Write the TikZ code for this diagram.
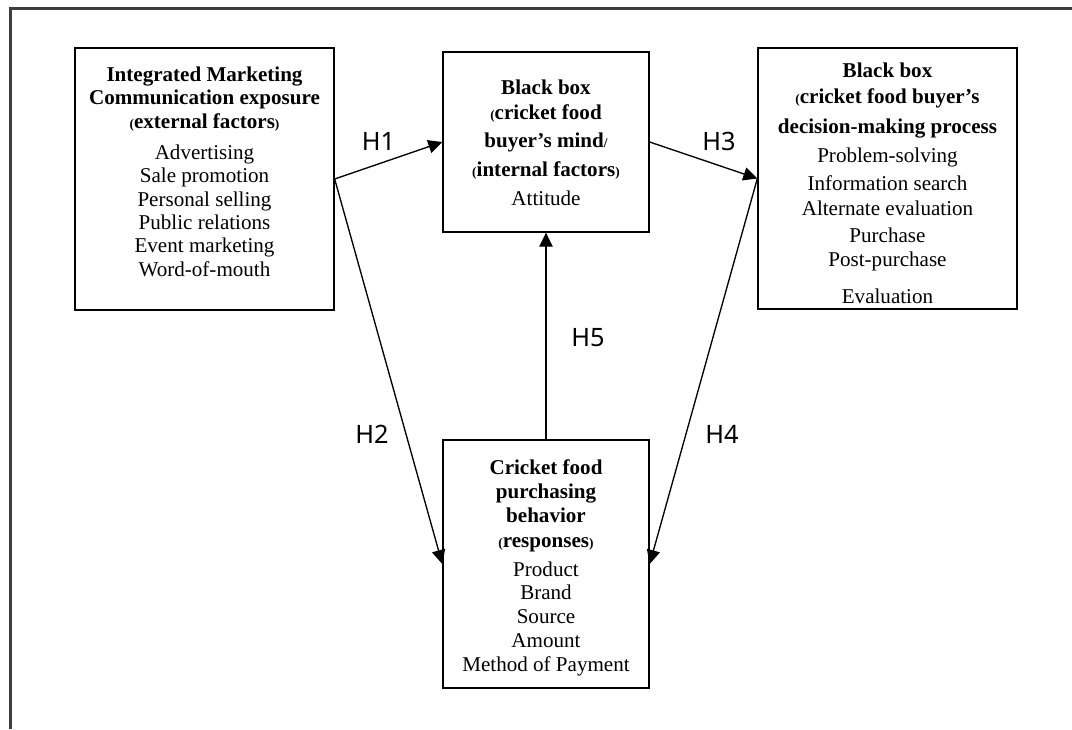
\documentclass[tikz,border=0pt]{standalone}
\usepackage{fontspec}
\setmainfont{Liberation Serif}
\newfontfamily\hypfont{Noto Sans}
\usetikzlibrary{arrows.meta}
% small punctuation as set in the box titles
\newcommand\smallp[1]{{\fontsize{10}{10}\selectfont #1}}

\begin{document}
\begin{tikzpicture}[x=0.75pt,y=-0.75pt,
  panel/.style={draw=black, line width=1pt, inner sep=0pt},
  flow/.style={line width=1pt, -{Triangle[length=10.5pt,width=10pt]}},
  hyp/.style={font=\hypfont\fontsize{19}{19}\selectfont, inner sep=0pt},
  txt/.style={font=\fontsize{15.8}{16}\selectfont, inner sep=0pt, anchor=base},
  ttl/.style={font=\bfseries\fontsize{15.8}{16}\selectfont, inner sep=0pt, anchor=base}]

\useasboundingbox (0,0) rectangle (1072,729);

% outer frame: top and left edges only
\draw[line width=2.25pt, color={rgb,255:red,62;green,62;blue,62}]
  (10,729) -- (10,8) -- (1072,8);

% the four boxes
\node[panel, minimum width=194.25pt, minimum height=196.5pt] (imc)  at (204.5,179) {};
\node[panel, minimum width=154.5pt,  minimum height=135pt]   (mind) at (546,142) {};
\node[panel, minimum width=194.25pt, minimum height=195.75pt] (dec) at (887.5,178.5) {};
\node[panel, minimum width=154.5pt,  minimum height=186pt]   (resp) at (546,564) {};

% external factors
\node[ttl] (imc1) at (204.5,81)  {Integrated Marketing};
\node[ttl] (imc2) at (204.5,104) {Communication exposure};
\node[ttl] (imc3) at (204.5,128) {\smallp{(}external factors\smallp{)}};
\foreach \yy/\tt [count=\i] in {159/Advertising, 182/Sale promotion, 206/Personal selling,
    229/Public relations, 252/Event marketing, 276/Word-of-mouth}
  \node[txt] (imcl\i) at (204.5,\yy) {\tt};

% buyer's mind
\node[ttl] (mind1) at (546,94)  {Black box};
\node[ttl] (mind2) at (546,119) {\smallp{(}cricket food};
\node[ttl] (mind3) at (546,147) {buyer’s mind\smallp{/}};
\node[ttl] (mind4) at (546,176) {\smallp{(}internal factors\smallp{)}};
\node[txt] (mind5) at (546,205) {Attitude};

% decision-making process
\node[ttl] (dec1) at (887.5,77)  {Black box};
\node[ttl] (dec2) at (887.5,103) {\smallp{(}cricket food buyer’s};
\node[ttl] (dec3) at (887.5,133) {decision-making process};
\foreach \yy/\tt [count=\i] in {162/Problem-solving, 190/Information search,
    215/Alternate evaluation, 242/Purchase, 266/Post-purchase, 303/Evaluation}
  \node[txt] (decl\i) at (887.5,\yy) {\tt};

% purchasing behavior
\node[ttl] (resp1) at (546,474) {Cricket food};
\node[ttl] (resp2) at (546,498) {purchasing};
\node[ttl] (resp3) at (546,522) {behavior};
\node[ttl] (resp4) at (546,547) {\smallp{(}responses\smallp{)}};
\foreach \yy/\tt [count=\i] in {576/Product, 599/Brand, 623/Source, 647/Amount,
    671/Method of Payment}
  \node[txt] (respl\i) at (546,\yy) {\tt};

% hypothesised paths
\draw[flow] (imc.east) -- (mind.west);
\draw[flow] (imc.east) -- (resp.west);
\draw[flow] (mind.east) -- (dec.west);
\draw[flow] (dec.west) -- (resp.east);
\draw[flow] (resp.north) -- (mind.south);

% path labels
\node[hyp] (h1) at (378.5,141) {H1};
\node[hyp] (h2) at (372,434) {H2};
\node[hyp] (h3) at (719,141) {H3};
\node[hyp] (h4) at (722,434) {H4};
\node[hyp] (h5) at (588,338) {H5};
\end{tikzpicture}
\end{document}
